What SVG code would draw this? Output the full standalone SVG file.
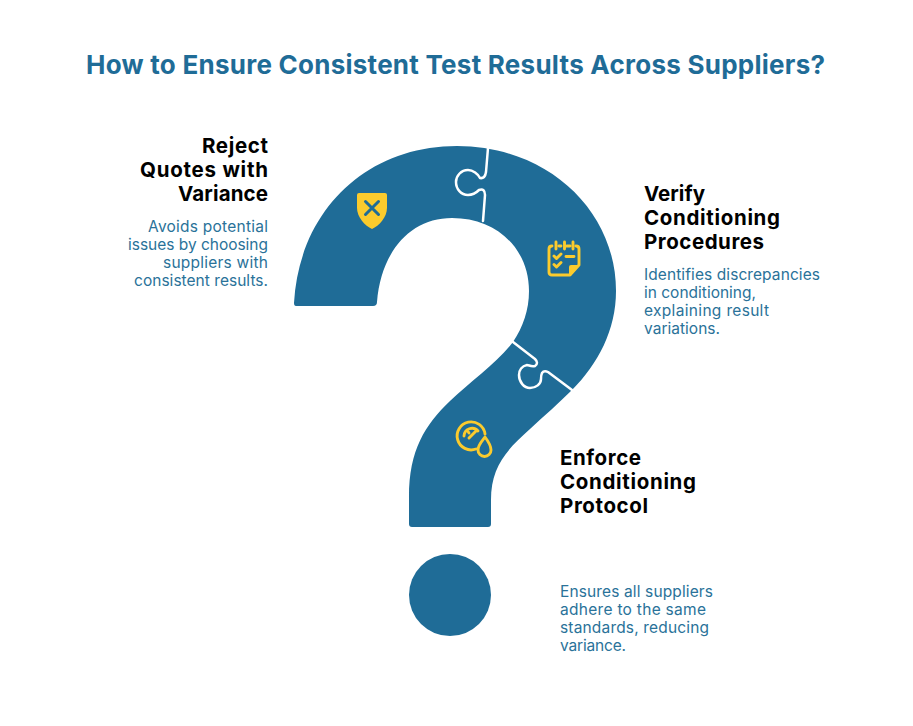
<svg xmlns="http://www.w3.org/2000/svg" width="913" height="726" viewBox="0 0 913 726">
<style>
.bg{fill:#fff}
.blue{fill:#1f6c97}
.seam{fill:none;stroke:#fff;stroke-width:2.500;stroke-linecap:round;stroke-linejoin:round}
.ico{fill:none;stroke:#fbcb2d;stroke-width:2.900;stroke-linecap:round;stroke-linejoin:round}
text{font-family:Inter,"Noto Sans","Liberation Sans",sans-serif}
.title{font-size:26px;font-weight:700;fill:#1f6c97}
.head{font-size:20.500px;font-weight:700;fill:#000}
.desc{font-size:15.500px;font-weight:400;fill:#2a7299}
.r{text-anchor:end}
</style>
<rect class="bg" width="913" height="726"/>
<text id="title" class="title" x="86" y="74" textLength="739" lengthAdjust="spacing">How to Ensure Consistent Test Results Across Suppliers?</text>
<g id="question-mark">
<path class="blue" d="M296,306 Q294,306 294,303 C299,212 365,146 457,146 C547,146 616,210 616,291 C616,330 598,364 572,390 C559,403 545,415 530,429 C505,451 491,468 491,500 L491,524 Q491,527 488,527 L412,527 Q409,527 409,524 L409,497 C409,450 425,425 450,401 C470,382 498,362 513,342 C523,327 529,310 529,291 C529,249 497,218 452,218 C410,218 381,252 377,302 Q377,306 373,306 Z"/>
<circle class="blue" cx="450" cy="595" r="41"/>
</g>
<g id="connectors">
<path class="seam" d="M488,148 L486,172 Q485,179 480,178 C478,174 473,170 468,170 C461,170 456,176 456,182 C456,189 461,195 468,195 C473,195 476,193 479,190 Q485,188 485,195 L483,221"/>
<path class="seam" d="M513,342 L535,359 Q539,363 535,366 C531,367 529,365 527,365 C522,366 519,370 519,375 C519,382 524,388 530,388 C536,388 541,384 541,379 C541,376 541,375 542,373 Q544,370 548,372 L572,390"/>
</g>
<g id="node-reject">
<text class="head r" x="268" y="153" textLength="66" lengthAdjust="spacing">Reject</text>
<text class="head r" x="268" y="177" textLength="128" lengthAdjust="spacing">Quotes with</text>
<text class="head r" x="268" y="201" textLength="90" lengthAdjust="spacing">Variance</text>
<text class="desc r" x="268" y="232" textLength="120" lengthAdjust="spacing">Avoids potential</text>
<text class="desc r" x="268" y="250" textLength="140" lengthAdjust="spacing">issues by choosing</text>
<text class="desc r" x="268" y="268" textLength="105" lengthAdjust="spacing">suppliers with</text>
<text class="desc r" x="268" y="286" textLength="134" lengthAdjust="spacing">consistent results.</text>
<path fill="#fbcb2d" d="M359,193 L385,193 Q387,193 387,195 L387,208 C387,217 379,226 372,229 C365,226 357,217 357,208 L357,195 Q357,193 359,193 Z"/>
<path fill="none" stroke="#1f6c97" stroke-width="3" stroke-linecap="round" d="M365.500,201.500 L378.500,214.500 M378.500,201.500 L365.500,214.500"/>
</g>
<g id="node-verify">
<text class="head" x="644" y="201" textLength="61" lengthAdjust="spacing">Verify</text>
<text class="head" x="644" y="225" textLength="136" lengthAdjust="spacing">Conditioning</text>
<text class="head" x="644" y="249" textLength="120" lengthAdjust="spacing">Procedures</text>
<text class="desc" x="644" y="280" textLength="176" lengthAdjust="spacing">Identifies discrepancies</text>
<text class="desc" x="644" y="298" textLength="112" lengthAdjust="spacing">in conditioning,</text>
<text class="desc" x="644" y="316" textLength="125" lengthAdjust="spacing">explaining result</text>
<text class="desc" x="644" y="334" textLength="76" lengthAdjust="spacing">variations.</text>
<path class="ico" d="M552,246 Q549,246 549,249 L549,272 Q549,275 552,275 L570,275 L579,265 L579,249 Q579,246 576,246 M559,246 L561,246 M567,246 L570,246 M556,242 L556,249 M564.500,242 L564.500,249 M573,242 L573,249 M554,256 L556.500,258.500 L561,254 M554,264.500 L556.500,267 L561,262.500 M566,256.500 L574,256.500"/>
<path fill="#fbcb2d" d="M569,275 L569,267 Q569,265 571,265 L579,265 Z"/>
</g>
<g id="node-enforce">
<text class="head" x="560" y="465" textLength="81" lengthAdjust="spacing">Enforce</text>
<text class="head" x="560" y="489" textLength="136" lengthAdjust="spacing">Conditioning</text>
<text class="head" x="560" y="513" textLength="88" lengthAdjust="spacing">Protocol</text>
<text class="desc" x="560" y="597" textLength="153" lengthAdjust="spacing">Ensures all suppliers</text>
<text class="desc" x="560" y="615" textLength="146" lengthAdjust="spacing">adhere to the same</text>
<text class="desc" x="560" y="633" textLength="149" lengthAdjust="spacing">standards, reducing</text>
<text class="desc" x="560" y="651" textLength="66" lengthAdjust="spacing">variance.</text>
<path class="ico" d="M485,434 A14,14 0 1 0 476,449 M464,436 A8,8 0 0 1 478,431 M467,430 L469,433 M469,438 L476,431"/>
<path class="ico" d="M485,437 C488,441 491,445 491,450 A6.500,6.500 0 0 1 478,450 C478,445 482,441 485,437 Z"/>
</g>
</svg>
